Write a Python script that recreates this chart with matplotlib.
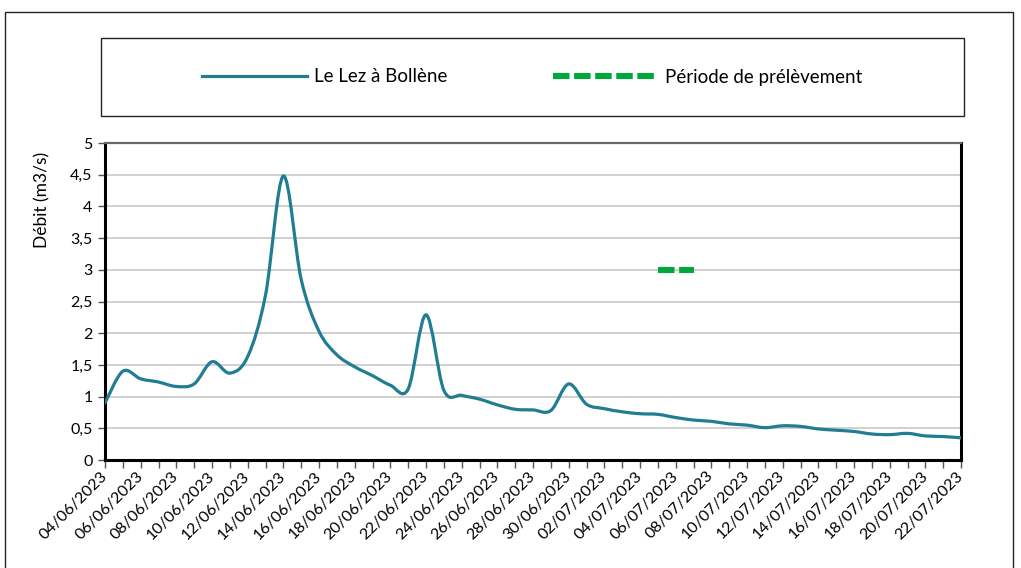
import matplotlib
matplotlib.use('Agg')
import matplotlib.pyplot as plt
import matplotlib.dates as mdates
from matplotlib.path import Path
from matplotlib.patches import PathPatch, Rectangle
from matplotlib.lines import Line2D
from matplotlib.ticker import FuncFormatter, MultipleLocator
import pandas as pd

plt.rcParams['font.family'] = ['Lato', 'DejaVu Sans']

# debit journalier du Lez a Bollene (m3/s), du 04/06/2023 au 22/07/2023
dates = pd.date_range('2023-06-04', '2023-07-22', freq='D')
debit = [0.90, 1.40, 1.28, 1.23, 1.16, 1.20, 1.55, 1.37, 1.63, 2.60,
         4.48, 2.85, 2.03, 1.66, 1.47, 1.33, 1.18, 1.12, 2.29, 1.10,
         1.02, 0.96, 0.87, 0.80, 0.79, 0.78, 1.20, 0.88, 0.81, 0.76,
         0.73, 0.72, 0.67, 0.63, 0.61, 0.57, 0.55, 0.51, 0.54, 0.53,
         0.49, 0.47, 0.45, 0.41, 0.40, 0.42, 0.38, 0.37, 0.35]

# periode de prelevement
prelev_dates = pd.to_datetime(['2023-07-05', '2023-07-07'])
prelev_niveau = [3, 3]

teal = '#207D92'
vert = '#00A83B'

x = mdates.date2num(dates.to_pydatetime())
y = debit


def courbe_lissee(x, y):
    # courbe lissee type Excel (Bezier / Catmull-Rom)
    verts = [(x[0], y[0])]
    codes = [Path.MOVETO]
    n = len(x)
    for i in range(n - 1):
        a = i - 1 if i > 0 else i
        d = i + 2 if i + 2 < n else i + 1
        c1 = (x[i] + (x[i + 1] - x[a]) / 6, y[i] + (y[i + 1] - y[a]) / 6)
        c2 = (x[i + 1] - (x[d] - x[i]) / 6, y[i + 1] - (y[d] - y[i]) / 6)
        verts += [c1, c2, (x[i + 1], y[i + 1])]
        codes += [Path.CURVE4] * 3
    return Path(verts, codes)


fig = plt.figure(figsize=(10.21, 5.68), dpi=100)
ax = fig.add_axes([105/1021, 108/568, 856/1021, 317/568])

ax.add_patch(PathPatch(courbe_lissee(x, y), fill=False, edgecolor=teal,
                       lw=2.3, capstyle='round', joinstyle='round', zorder=3))
ax.plot(prelev_dates, prelev_niveau, color=vert, lw=4.4,
        dashes=(2.7, 0.75), solid_capstyle='butt', dash_capstyle='butt', zorder=3)

ax.set_xlim(x[0], x[-1])
ax.set_ylim(0, 5)
ax.yaxis.set_major_locator(MultipleLocator(0.5))
ax.yaxis.set_major_formatter(FuncFormatter(lambda v, p: f"{v:g}".replace('.', ',')))
ax.set_xticks(x[::2])
ax.set_xticks(x, minor=True)
ax.xaxis.set_major_formatter(mdates.DateFormatter('%d/%m/%Y'))

ax.grid(axis='y', color='#c8c8c8', lw=1.2, zorder=0)
ax.set_axisbelow(True)

for s in ['left', 'bottom', 'right']:
    ax.spines[s].set_color('black')
    ax.spines[s].set_linewidth(2.2)
ax.spines['top'].set_color('#6a6a6a')
ax.spines['top'].set_linewidth(1.6)

ax.tick_params(axis='y', direction='out', length=5, width=1, color='#555555',
               labelsize=11.5, pad=4)
ax.tick_params(axis='x', which='both', direction='out', length=6, width=1,
               color='#555555')
ax.tick_params(axis='x', labelsize=11.5, pad=4)
for lab in ax.get_xticklabels():
    lab.set_rotation(45)
    lab.set_ha('right')
    lab.set_va('center')
    lab.set_rotation_mode('anchor')

ax.set_ylabel('Débit (m3/s)', fontsize=12.5)
ax.yaxis.set_label_coords(-0.064, 0.82)

# cadre exterieur et cadre de legende
fig.patches.append(Rectangle((5/1021, -0.1), 1008/1021, 1.1 - 12/568,
                             transform=fig.transFigure, fill=False,
                             edgecolor='#222222', lw=1.0))
fig.patches.append(Rectangle((101/1021, (568-116)/568), 863/1021, 78/568,
                             transform=fig.transFigure, fill=False,
                             edgecolor='#222222', lw=1.0))

handles = [Line2D([], [], color=teal, lw=2.3),
           Line2D([], [], color=vert, lw=4.4, dashes=(2.7, 0.75),
                  dash_capstyle='butt')]
fig.legend(handles, ['Le Lez à Bollène', 'Période de prélèvement'],
           loc='center', bbox_to_anchor=(532/1021, (568-77)/568), ncol=2,
           frameon=False, fontsize=13.5, handlelength=5.6,
           handletextpad=0.37, columnspacing=5.65)

plt.savefig('out.png', dpi=100)
